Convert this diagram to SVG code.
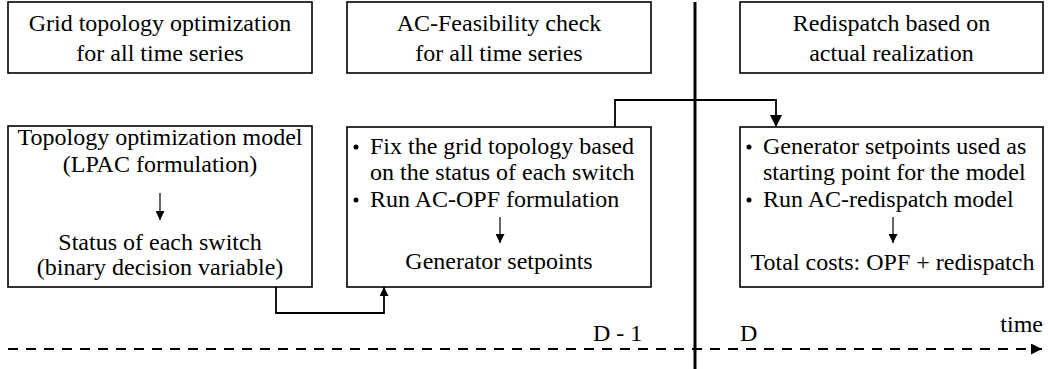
<svg xmlns="http://www.w3.org/2000/svg" width="1048" height="369" viewBox="0 0 1048 369">
<defs>
<style>
.box{fill:#fff;stroke:#000;stroke-width:1.6}
.thin{stroke:#000;stroke-width:1.2;fill:none}
.conn{stroke:#000;stroke-width:1.8;fill:none}
.txt{fill:#000;font-size:24px}
</style>
<marker id="hs" viewBox="0 0 10 10" refX="10" refY="5" markerWidth="11" markerHeight="9" markerUnits="userSpaceOnUse" orient="auto"><path d="M0,0 L10,5 L0,10 z" fill="#000"/></marker>
<marker id="hl" viewBox="0 0 10 10" refX="10" refY="5" markerWidth="15" markerHeight="12" markerUnits="userSpaceOnUse" orient="auto"><path d="M0,0 L10,5 L0,10 z" fill="#000"/></marker>
<marker id="ht" viewBox="0 0 10 10" refX="10" refY="5" markerWidth="16" markerHeight="11" markerUnits="userSpaceOnUse" orient="auto"><path d="M0,0 L10,5 L0,10 z" fill="#000"/></marker>
</defs>
<rect width="1048" height="369" fill="#fff"/>

<g id="head1"><rect class="box" x="8" y="2" width="304" height="71"/>
<g class="txt" font-family="Liberation Serif" text-anchor="middle">
<text x="160" y="31" font-family="Liberation Serif">Grid topology optimization</text>
<text x="160" y="61" font-family="Liberation Serif">for all time series</text></g></g>

<g id="head2"><rect class="box" x="347" y="2" width="304" height="71"/>
<g class="txt" font-family="Liberation Serif" text-anchor="middle">
<text x="499" y="31" font-family="Liberation Serif">AC-Feasibility check</text>
<text x="499" y="61" font-family="Liberation Serif">for all time series</text></g></g>

<g id="head3"><rect class="box" x="740" y="2" width="303" height="71"/>
<g class="txt" font-family="Liberation Serif" text-anchor="middle">
<text x="891.5" y="31" font-family="Liberation Serif">Redispatch based on</text>
<text x="891.5" y="61" font-family="Liberation Serif">actual realization</text></g></g>

<g id="topo"><rect class="box" x="8" y="126" width="304" height="161"/>
<line class="thin" x1="160" y1="193" x2="160" y2="220" marker-end="url(#hs)"/>
<g class="txt" font-family="Liberation Serif" text-anchor="middle">
<text x="160" y="145" font-family="Liberation Serif">Topology optimization model</text>
<text x="160" y="172" font-family="Liberation Serif">(LPAC formulation)</text>
<text x="160" y="250" font-family="Liberation Serif">Status of each switch</text>
<text x="160" y="275" font-family="Liberation Serif">(binary decision variable)</text></g></g>

<g id="acf"><rect class="box" x="347" y="127" width="304" height="160"/>
<line class="thin" x1="500" y1="217" x2="500" y2="243" marker-end="url(#hs)"/>
<circle cx="356" cy="147" r="2.5" fill="#000"/>
<circle cx="356" cy="200" r="2.5" fill="#000"/>
<g class="txt" font-family="Liberation Serif">
<text x="370" y="154" font-family="Liberation Serif">Fix the grid topology based</text>
<text x="370" y="180" font-family="Liberation Serif">on the status of each switch</text>
<text x="370" y="207" font-family="Liberation Serif">Run AC-OPF formulation</text>
<text x="499" y="269" font-family="Liberation Serif" text-anchor="middle">Generator setpoints</text></g></g>

<g id="redis"><rect class="box" x="740" y="127" width="303" height="160"/>
<line class="thin" x1="893" y1="217" x2="893" y2="243" marker-end="url(#hs)"/>
<circle cx="749" cy="147" r="2.5" fill="#000"/>
<circle cx="749" cy="200" r="2.5" fill="#000"/>
<g class="txt" font-family="Liberation Serif">
<text x="763" y="154" font-family="Liberation Serif">Generator setpoints used as</text>
<text x="763" y="180" font-family="Liberation Serif">starting point for the model</text>
<text x="763" y="207" font-family="Liberation Serif">Run AC-redispatch model</text>
<text x="892.5" y="270" font-family="Liberation Serif" text-anchor="middle">Total costs: OPF + redispatch</text></g></g>

<g id="timeline">
<line x1="695" y1="2" x2="695" y2="369" stroke="#000" stroke-width="3"/>
<line x1="8" y1="349" x2="1042" y2="349" stroke="#000" stroke-width="2" stroke-dasharray="10 8" marker-end="url(#ht)"/>
<g class="txt" font-family="Liberation Serif">
<text x="593" y="341" font-family="Liberation Serif">D - 1</text>
<text x="740" y="341" font-family="Liberation Serif">D</text>
<text x="1043" y="332" font-family="Liberation Serif" text-anchor="end">time</text></g>
</g>

<g id="connectors">
<polyline class="conn" points="276,287 276,313 384,313 384,287" marker-end="url(#hs)"/>
<polyline class="conn" points="615,127 615,100 776,100 776,127" marker-end="url(#hl)"/>
</g>
</svg>
